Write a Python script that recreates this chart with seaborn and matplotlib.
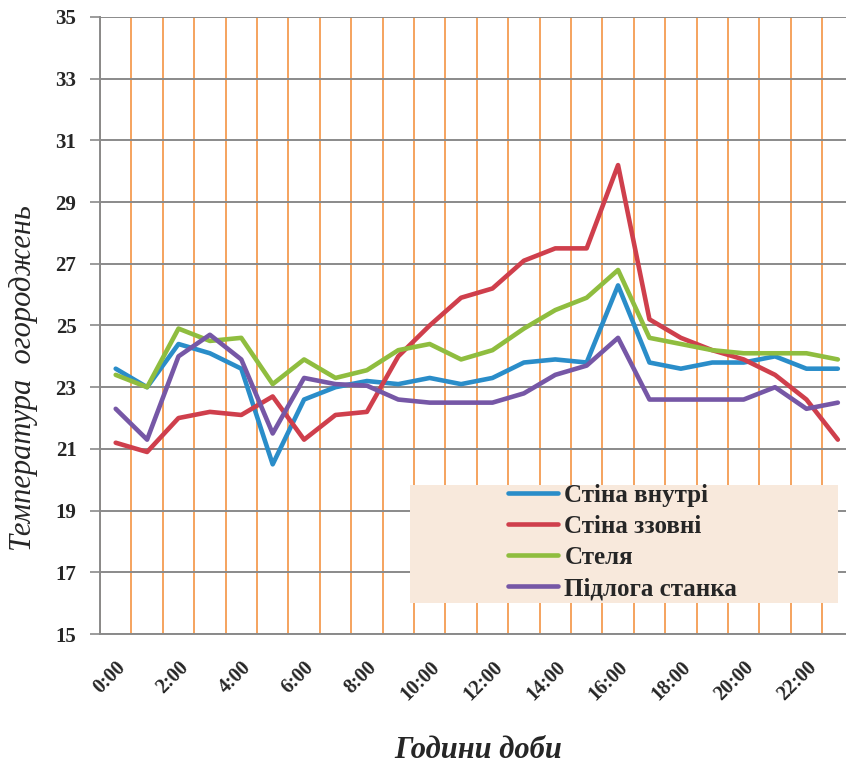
import numpy as np
import pandas as pd
import matplotlib
matplotlib.use("Agg")
import matplotlib.pyplot as plt
import seaborn as sns
from matplotlib.lines import Line2D
from matplotlib.patches import Rectangle
from matplotlib.ticker import FixedLocator

hours = list(range(24))
hour_labels = [f"{h}:00" for h in range(0, 24, 2)]

wall_inside = [23.6, 23.0, 24.4, 24.1, 23.6, 20.5, 22.6, 23.0, 23.2, 23.1, 23.3, 23.1,
               23.3, 23.8, 23.9, 23.8, 26.3, 23.8, 23.6, 23.8, 23.8, 24.0, 23.6, 23.6]
wall_outside = [21.2, 20.9, 22.0, 22.2, 22.1, 22.7, 21.3, 22.1, 22.2, 24.0, 25.0, 25.9,
                26.2, 27.1, 27.5, 27.5, 30.2, 25.2, 24.6, 24.2, 23.9, 23.4, 22.6, 21.3]
ceiling = [23.4, 23.0, 24.9, 24.5, 24.6, 23.1, 23.9, 23.3, 23.55, 24.2, 24.4, 23.9,
           24.2, 24.9, 25.5, 25.9, 26.8, 24.6, 24.4, 24.2, 24.1, 24.1, 24.1, 23.9]
floor = [22.3, 21.3, 24.0, 24.7, 23.9, 21.5, 23.3, 23.1, 23.05, 22.6, 22.5, 22.5,
         22.5, 22.8, 23.4, 23.7, 24.6, 22.6, 22.6, 22.6, 22.6, 23.0, 22.3, 22.5]

series_names = ["Стіна внутрі", "Стіна ззовні", "Стеля", "Підлога станка"]
series_colors = ["#2a8dc9", "#cf3f4c", "#8fbd3f", "#7657a6"]

df = pd.DataFrame({
    "hour": hours * 4,
    "temp": wall_inside + wall_outside + ceiling + floor,
    "series": sum([[n] * 24 for n in series_names], []),
})

sns.set_style("white")
plt.rcParams["font.family"] = ["Liberation Serif", "DejaVu Serif"]

W, H = 846, 771
fig = plt.figure(figsize=(W / 100, H / 100), dpi=100)
ax = fig.add_axes([100 / W, 137 / H, 1 - 100 / W, (634 - 17) / H])

ax.set_ylim(15, 35)
ax.set_xlim(-0.5, 23.26)
ax.yaxis.set_major_locator(FixedLocator(np.arange(15, 36, 2)))
ax.grid(axis="y", which="major", color="#8a8a8a", linewidth=1.4, zorder=0)
ax.xaxis.set_major_locator(FixedLocator(np.arange(0, 24, 2)))
ax.xaxis.set_minor_locator(FixedLocator(np.arange(-0.5, 24, 1)))
ax.grid(axis="x", which="minor", color="#f5a35e", linewidth=1.4, zorder=0)
ax.grid(axis="x", which="major", visible=False)

sns.lineplot(data=df, x="hour", y="temp", hue="series", hue_order=series_names,
             palette=series_colors, linewidth=3.3, ax=ax, legend=False, zorder=3)

for s in ["top", "right"]:
    ax.spines[s].set_visible(False)
for s in ["left", "bottom"]:
    ax.spines[s].set_color("#8a8a8a")
    ax.spines[s].set_linewidth(1.4)

ax.set_xticks(np.arange(0, 24, 2))
ax.set_xticklabels(hour_labels, rotation=45, ha="right", rotation_mode="anchor",
                   fontsize=14.5, fontweight="bold")
ax.tick_params(axis="x", which="major", length=0, pad=17)
ax.tick_params(axis="x", which="minor", length=7, width=1.2, color="#8a8a8a", direction="out")
ax.set_yticks(np.arange(15, 36, 2))
ax.set_yticklabels([str(v) for v in range(15, 36, 2)], fontsize=15, fontweight="bold")
ax.tick_params(axis="y", which="major", length=7, width=1.2, color="#8a8a8a", pad=10, left=True)

ax.set_xlabel("Години доби", fontsize=22, fontstyle="italic", fontweight="bold")
ax.xaxis.set_label_coords((478 - 100) / 746, -(736 - 634) / 617)
ax.set_ylabel("Температура  огороджень", fontsize=22, fontstyle="italic")
ax.yaxis.set_label_coords((38 - 100) / 746, (634 - 378) / 617)

# legend background box
ax.add_patch(Rectangle(((410 - 100) / 746, (634 - 603) / 617), (838 - 410) / 746,
                       (603 - 485) / 617, transform=ax.transAxes,
                       facecolor="#f8e9dc", edgecolor="none", zorder=4, clip_on=False))
handles = [Line2D([0], [0], color=c, lw=3.3) for c in series_colors]
leg = ax.legend(handles, series_names, loc="upper left",
                bbox_to_anchor=((508 - 100) / 746, (634 - 484) / 617),
                prop={"weight": "bold", "size": 18}, frameon=False,
                handlelength=2.0, handletextpad=0.25, labelspacing=0.32,
                borderpad=0.0, borderaxespad=0.0)
leg.set_zorder(5)

fig.savefig("out.png", dpi=100, facecolor="white")
